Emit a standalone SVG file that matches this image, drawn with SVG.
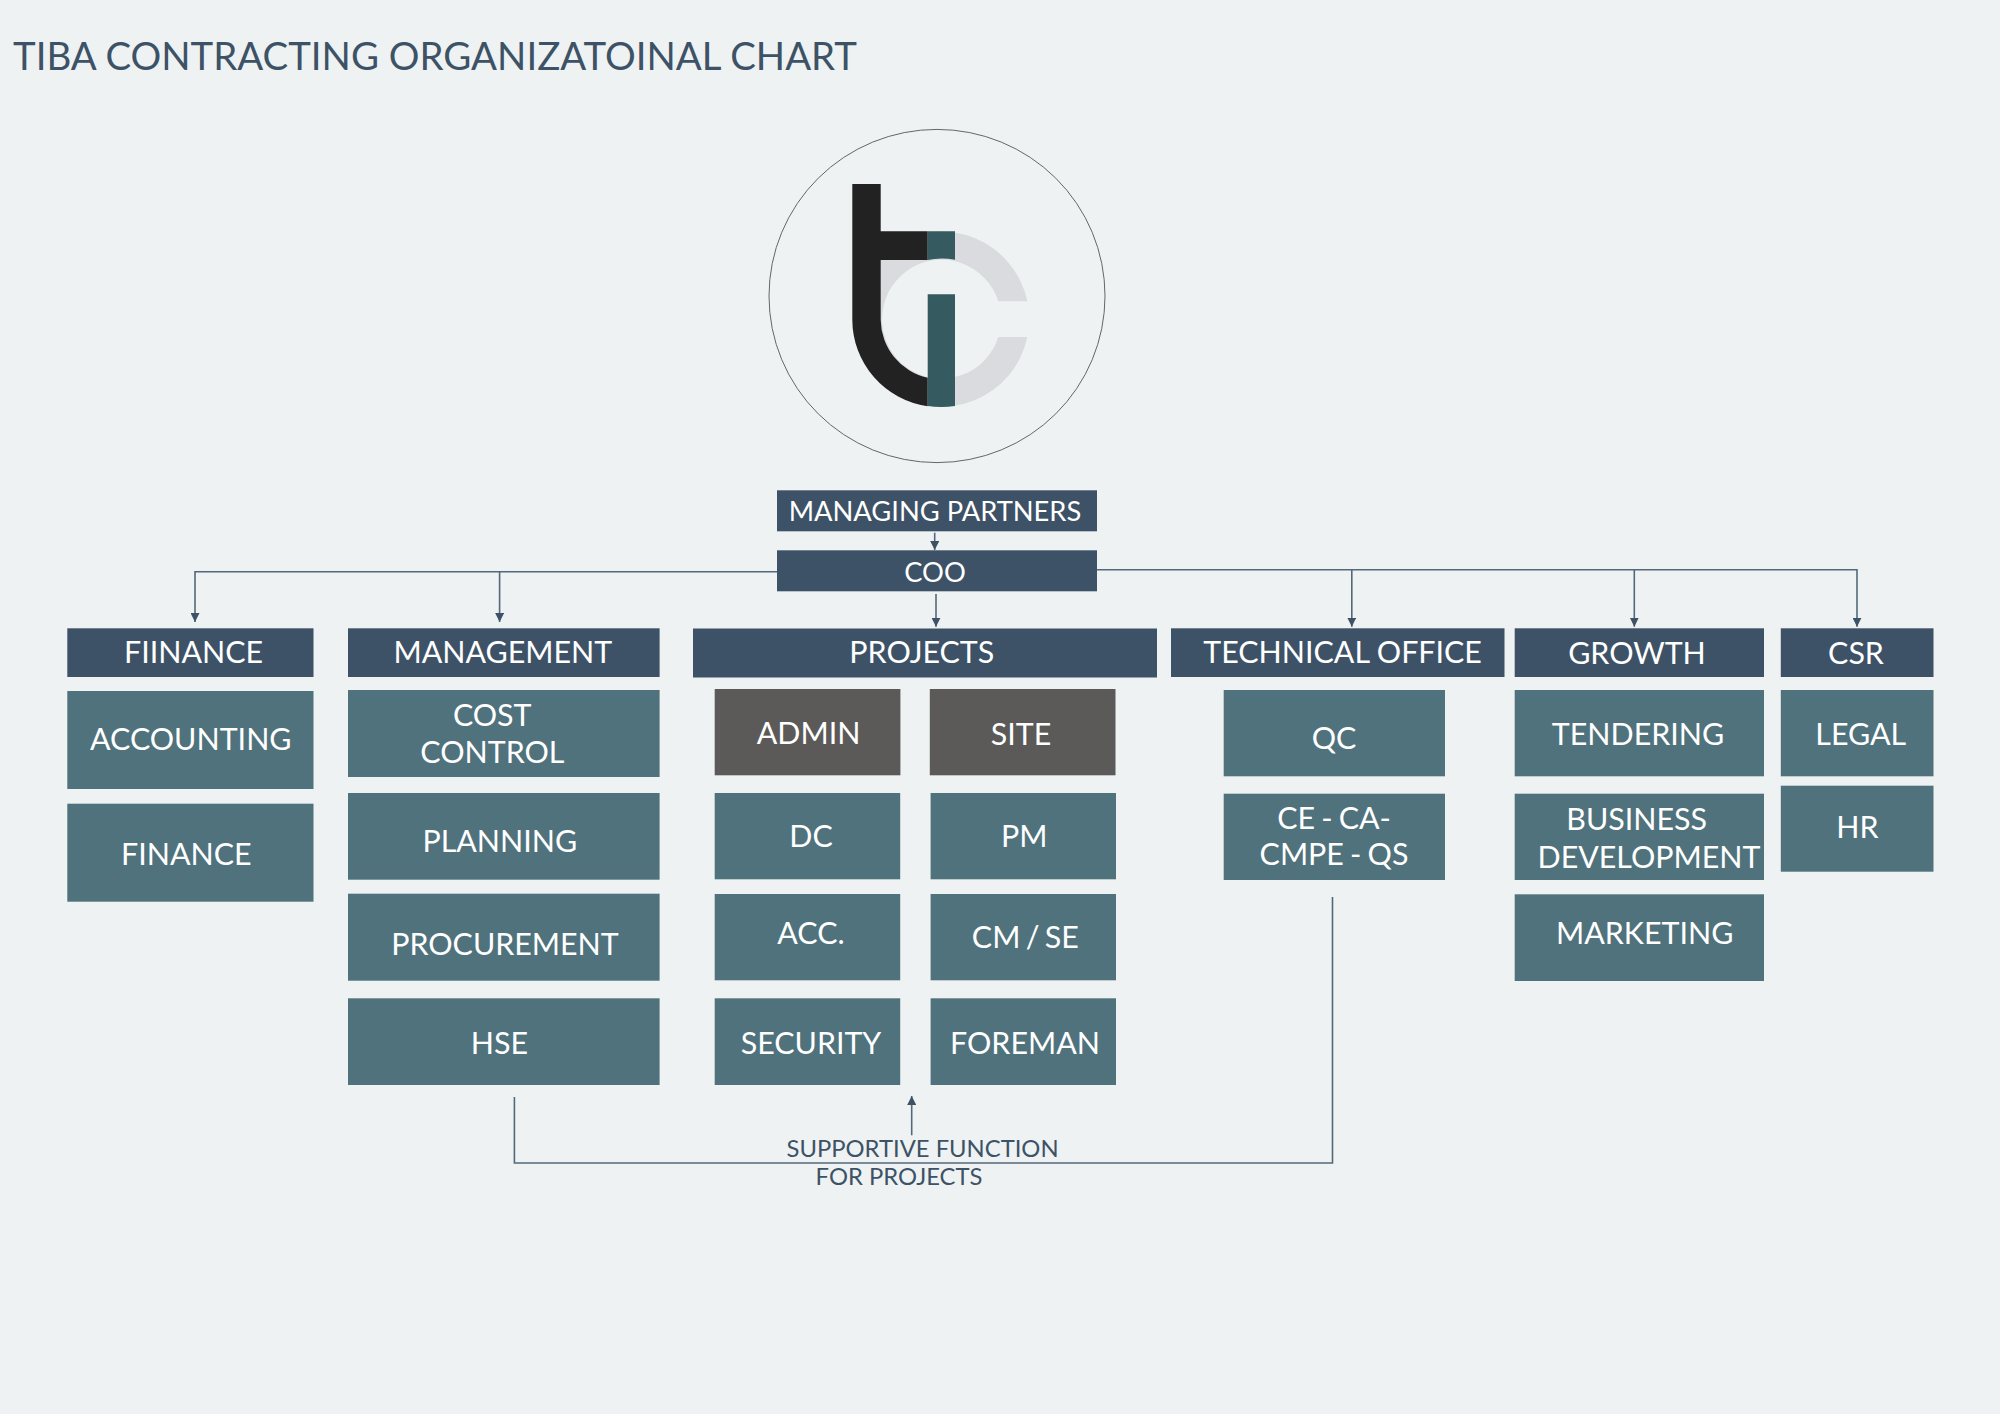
<svg xmlns="http://www.w3.org/2000/svg" width="2000" height="1414" viewBox="0 0 2000 1414">
<style>
text{font-family:Lato,"Open Sans","Liberation Sans",sans-serif;text-anchor:middle;fill:#fff;font-size:30.4px}
.h{fill:#3d5266}.b{fill:#4f727c}.g{fill:#5b5a58}
.m{font-size:27.3px}
.c{fill:none;stroke:#54687b;stroke-width:1.6}
.l{fill:#3d5266;font-size:23.8px}
.w{word-spacing:-1.6px}
</style>
<defs>
<marker id="a" markerUnits="userSpaceOnUse" markerWidth="10" markerHeight="9" refX="9" refY="4.5" orient="auto"><path d="M0 0L9 4.5L0 9Z" fill="#3d5266"/></marker>
</defs>
<rect width="2000" height="1414" fill="#eef2f3"/>
<text id="title" x="13" y="70" style="text-anchor:start;font-size:38.4px;fill:#3d5266">TIBA CONTRACTING ORGANIZATOINAL CHART</text>
<g transform="translate(0,1)">
<g id="logo">
<ellipse cx="937" cy="295" rx="168" ry="166.6" fill="none" stroke="#666" stroke-width="1"/>
<path fill="#d9dbde" fill-rule="evenodd" d="M1027.3 300.3A87.5 87.5 0 1 0 1027.3 336L998.3 336A59.5 59.5 0 1 1 998.3 300.3Z"/>
<path fill="#222" d="M852.3 183H880.7V230.3H927.7V259H880.7V318.7A60 60 0 0 0 927.7 376.7V405.2A87.5 87.5 0 0 1 852.3 318.7Z"/>
<path fill="#355a60" d="M927.7 230.3H955V258.8Q941 256 927.7 259ZM927.7 293.3H955V405Q941 407 927.7 405Z"/>
</g>
<g id="connectors">
<path class="c" d="M777 570.7H195V621" marker-end="url(#a)"/>
<path class="c" d="M499.6 570.7V621" marker-end="url(#a)"/>
<path class="c" d="M934.7 531.7V549" marker-end="url(#a)"/>
<path class="c" d="M936 593V625.7" marker-end="url(#a)"/>
<path class="c" d="M1097 568.7H1857V625.7" marker-end="url(#a)"/>
<path class="c" d="M1351.8 568.7V625.7" marker-end="url(#a)"/>
<path class="c" d="M1634.3 568.7V625.7" marker-end="url(#a)"/>
<path class="c" d="M514.4 1096V1162H1332.5V896"/>
<path class="c" d="M911.7 1134.3V1095" marker-end="url(#a)"/>
</g>
<g id="managing-partners"><rect class="h" x="777" y="489.3" width="320" height="41"/><text class="m" x="935" y="520">MANAGING PARTNERS</text></g>
<g id="coo"><rect class="h" x="777" y="549.3" width="320" height="41"/><text class="m" x="935" y="580.7">COO</text></g>
<g id="finance-head"><rect class="h" x="67.3" y="627.3" width="246.2" height="48.7"/><text x="193.5" y="661.7">FIINANCE</text></g>
<g id="management-head"><rect class="h" x="348" y="627.3" width="311.6" height="48.7"/><text x="502.9" y="661.7">MANAGEMENT</text></g>
<g id="projects-head"><rect class="h" x="693" y="627.5" width="464" height="49"/><text x="921.8" y="661.7">PROJECTS</text></g>
<g id="technical-head"><rect class="h" x="1171" y="627.3" width="333.5" height="48.7"/><text x="1342.6" y="661.7">TECHNICAL OFFICE</text></g>
<g id="growth-head"><rect class="h" x="1514.7" y="627.3" width="249.3" height="48.7"/><text x="1637" y="662.7">GROWTH</text></g>
<g id="csr-head"><rect class="h" x="1780.8" y="627.3" width="152.7" height="48.7"/><text x="1856" y="662.7">CSR</text></g>
<g id="accounting"><rect class="b" x="67.3" y="690" width="246.2" height="98"/><text x="190.8" y="749">ACCOUNTING</text></g>
<g id="finance"><rect class="b" x="67.3" y="802.7" width="246.2" height="98"/><text x="186.3" y="864">FINANCE</text></g>
<g id="cost-control"><rect class="b" x="348" y="689" width="311.6" height="87"/><text x="492.2" y="725">COST</text><text x="492.4" y="761.7">CONTROL</text></g>
<g id="planning"><rect class="b" x="348" y="792" width="311.6" height="86.7"/><text x="499.8" y="851">PLANNING</text></g>
<g id="procurement"><rect class="b" x="348" y="892.7" width="311.6" height="87"/><text x="505" y="954">PROCUREMENT</text></g>
<g id="hse"><rect class="b" x="348" y="997.3" width="311.6" height="86.7"/><text x="499.4" y="1053">HSE</text></g>
<g id="admin"><rect class="g" x="714.7" y="688" width="185.7" height="86.3"/><text x="808.6" y="743.3">ADMIN</text></g>
<g id="site"><rect class="g" x="929.8" y="688" width="185.7" height="86.3"/><text x="1021" y="743.8">SITE</text></g>
<g id="dc"><rect class="b" x="714.7" y="792" width="185.5" height="86.3"/><text x="811" y="846">DC</text></g>
<g id="pm"><rect class="b" x="930.6" y="792" width="185.4" height="86.3"/><text x="1024.3" y="846">PM</text></g>
<g id="acc"><rect class="b" x="714.7" y="893" width="185.5" height="86.3"/><text x="811" y="943.3">ACC.</text></g>
<g id="cm-se"><rect class="b" x="930.6" y="893" width="185.4" height="86.3"/><text class="w" x="1025.3" y="947.3" style="word-spacing:-2.5px">CM / SE</text></g>
<g id="security"><rect class="b" x="714.7" y="997.3" width="185.5" height="86.7"/><text x="811" y="1053">SECURITY</text></g>
<g id="foreman"><rect class="b" x="930.6" y="997.3" width="185.4" height="86.7"/><text x="1025" y="1052.7">FOREMAN</text></g>
<g id="qc"><rect class="b" x="1223.7" y="689" width="221.3" height="86.3"/><text x="1334" y="748.3">QC</text></g>
<g id="ce"><rect class="b" x="1223.7" y="792.7" width="221.3" height="86.3"/><text class="w" x="1334" y="828.3">CE - CA-</text><text class="w" x="1334" y="864">CMPE - QS</text></g>
<g id="tendering"><rect class="b" x="1514.7" y="689" width="249.3" height="86.3"/><text x="1638" y="744.3">TENDERING</text></g>
<g id="business"><rect class="b" x="1514.7" y="792.7" width="249.3" height="86.3"/><text x="1636.7" y="829.3">BUSINESS</text><text x="1649" y="866.7">DEVELOPMENT</text></g>
<g id="marketing"><rect class="b" x="1514.7" y="893.3" width="249.3" height="86.7"/><text x="1644.7" y="942.5">MARKETING</text></g>
<g id="legal"><rect class="b" x="1780.8" y="689" width="152.7" height="86.3"/><text x="1860.8" y="744.3">LEGAL</text></g>
<g id="hr"><rect class="b" x="1780.8" y="784.7" width="152.7" height="86"/><text x="1857.3" y="837">HR</text></g>
<g id="supportive"><text class="l" x="922.6" y="1155.7">SUPPORTIVE FUNCTION</text><text class="l" x="899" y="1184.3">FOR PROJECTS</text></g>
</g>
</svg>
